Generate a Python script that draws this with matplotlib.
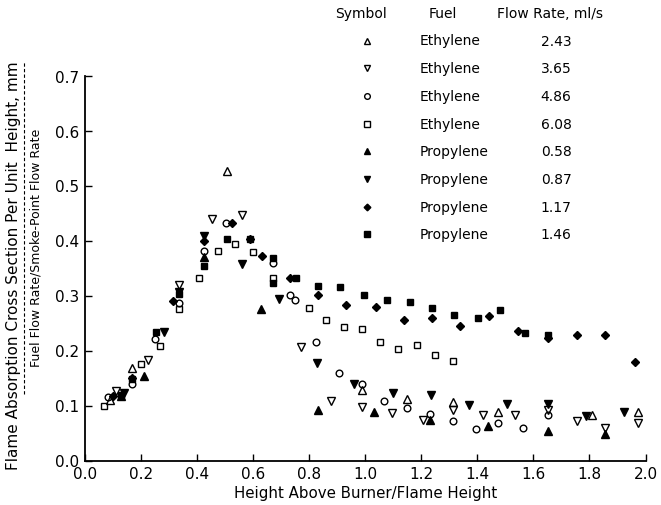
import matplotlib
matplotlib.use("Agg")
import matplotlib.pyplot as plt
from matplotlib.lines import Line2D

plt.rcParams['font.family'] = ['DejaVu Sans']

# ---- data ----
fuels = ["Ethylene", "Ethylene", "Ethylene", "Ethylene",
         "Propylene", "Propylene", "Propylene", "Propylene"]
flow_rates = ["2.43", "3.65", "4.86", "6.08", "0.58", "0.87", "1.17", "1.46"]

eth243_x = [0.09, 0.167, 0.506, 0.988, 1.149, 1.312, 1.473, 1.81, 1.974]
eth243_y = [0.110, 0.168, 0.527, 0.129, 0.112, 0.106, 0.088, 0.083, 0.089]

eth365_x = [0.11, 0.226, 0.336, 0.452, 0.56, 0.771, 0.877, 0.988, 1.095, 1.206,
            1.312, 1.42, 1.533, 1.651, 1.754, 1.857, 1.974]
eth365_y = [0.126, 0.183, 0.319, 0.440, 0.446, 0.206, 0.109, 0.098, 0.086, 0.074,
            0.091, 0.083, 0.083, 0.091, 0.071, 0.059, 0.068]

eth486_x = [0.083, 0.167, 0.25, 0.336, 0.423, 0.502, 0.67, 0.732, 0.75, 0.825,
            0.905, 0.988, 1.068, 1.149, 1.232, 1.312, 1.396, 1.473, 1.562, 1.651]
eth486_y = [0.115, 0.140, 0.221, 0.286, 0.381, 0.431, 0.359, 0.301, 0.292, 0.215,
            0.160, 0.140, 0.109, 0.095, 0.085, 0.071, 0.058, 0.068, 0.060, 0.082]

eth608_x = [0.068, 0.20, 0.268, 0.336, 0.405, 0.473, 0.535, 0.601, 0.67, 0.798,
            0.86, 0.923, 0.988, 1.054, 1.117, 1.185, 1.248, 1.312]
eth608_y = [0.099, 0.175, 0.209, 0.275, 0.332, 0.381, 0.394, 0.380, 0.331, 0.277,
            0.255, 0.243, 0.240, 0.215, 0.203, 0.210, 0.192, 0.181]

pro058_x = [0.13, 0.211, 0.423, 0.629, 0.83, 1.033, 1.232, 1.438, 1.651, 1.857]
pro058_y = [0.117, 0.154, 0.370, 0.275, 0.092, 0.089, 0.074, 0.062, 0.054, 0.048]

pro087_x = [0.14, 0.282, 0.336, 0.423, 0.56, 0.694, 0.827, 0.961, 1.099, 1.236,
            1.371, 1.506, 1.651, 1.789, 1.923]
pro087_y = [0.123, 0.234, 0.307, 0.408, 0.357, 0.294, 0.177, 0.140, 0.122, 0.119,
            0.101, 0.103, 0.103, 0.081, 0.088]

pro117_x = [0.10, 0.167, 0.315, 0.423, 0.526, 0.587, 0.631, 0.732, 0.833, 0.932,
            1.038, 1.137, 1.238, 1.339, 1.44, 1.544, 1.652, 1.754, 1.857, 1.962]
pro117_y = [0.118, 0.150, 0.290, 0.400, 0.431, 0.403, 0.371, 0.331, 0.301, 0.283,
            0.279, 0.255, 0.260, 0.244, 0.262, 0.236, 0.223, 0.229, 0.228, 0.179]

pro146_x = [0.13, 0.167, 0.254, 0.337, 0.423, 0.506, 0.587, 0.67, 0.67, 0.754,
            0.833, 0.911, 0.994, 1.077, 1.161, 1.238, 1.315, 1.402, 1.48, 1.569, 1.652]
pro146_y = [0.120, 0.148, 0.233, 0.303, 0.353, 0.403, 0.403, 0.369, 0.323, 0.331,
            0.318, 0.315, 0.301, 0.291, 0.288, 0.277, 0.265, 0.259, 0.274, 0.231, 0.228]

xticks = [0.0, 0.2, 0.4, 0.6, 0.8, 1.0, 1.2, 1.4, 1.6, 1.8, 2.0]
yticks = [0.0, 0.1, 0.2, 0.3, 0.4, 0.5, 0.6, 0.7]

series = [
    (eth243_x, eth243_y, '^', 'none'),
    (eth365_x, eth365_y, 'v', 'none'),
    (eth486_x, eth486_y, 'o', 'none'),
    (eth608_x, eth608_y, 's', 'none'),
    (pro058_x, pro058_y, '^', 'black'),
    (pro087_x, pro087_y, 'v', 'black'),
    (pro117_x, pro117_y, 'D', 'black'),
    (pro146_x, pro146_y, 's', 'black'),
]

W, H = 661, 506
fig = plt.figure(figsize=(W / 100, H / 100), dpi=100)
left, right = 85 / W, 645.5 / W
bottom, top = 1 - 461.5 / H, 1 - 76.5 / H
ax = fig.add_axes([left, bottom, right - left, top - bottom])

msize = {'^': 5.2, 'v': 5.2, 'o': 4.8, 's': 4.4, 'D': 4.0}
for xs, ys, m, fc in series:
    ax.plot(xs, ys, linestyle='none', marker=m, markersize=msize[m],
            markerfacecolor=fc, markeredgecolor='black', markeredgewidth=1.0,
            clip_on=False)

ax.set_xlim(0, 2.0)
ax.set_ylim(0, 0.7)
ax.spines['top'].set_visible(False)
ax.spines['right'].set_visible(False)
ax.spines['left'].set_linewidth(1.3)
ax.spines['bottom'].set_linewidth(1.3)
ax.set_xticks(xticks)
ax.set_xticklabels([f"{v:.1f}" for v in xticks])
ax.set_yticks(yticks)
ax.set_yticklabels([f"{v:.1f}" for v in yticks])
ax.tick_params(direction='in', length=5, width=1, labelsize=11, pad=4)

ax.set_xlabel("Height Above Burner/Flame Height", fontsize=10.8, labelpad=3)

# y label as a fraction
fig.text(14 / W, 1 - 266 / H, "Flame Absorption Cross Section Per Unit  Height, mm",
         rotation=90, ha='center', va='center', fontsize=11)
fig.add_artist(Line2D([24 / W, 24 / W], [1 - 395 / H, 1 - 62 / H],
                      color='black', lw=0.8, linestyle=(0, (3, 2))))
fig.text(36 / W, 1 - 248 / H, "Fuel Flow Rate/Smoke-Point Flow Rate",
         rotation=90, ha='center', va='center', fontsize=9)

# legend table
fig.text(361 / W, 1 - 14 / H, "Symbol", ha='center', va='center', fontsize=10)
fig.text(443 / W, 1 - 14 / H, "Fuel", ha='center', va='center', fontsize=10)
fig.text(550 / W, 1 - 14 / H, "Flow Rate, ml/s", ha='center', va='center', fontsize=10)
row_y0, row_dy = 41.5, 27.7
for i, (xs, ys, m, fc) in enumerate(series):
    yy = 1 - (row_y0 + i * row_dy) / H
    fig.add_artist(Line2D([367 / W], [yy], linestyle='none', marker=m,
                          markersize=msize[m] * 0.85, markerfacecolor=fc,
                          markeredgecolor='black', markeredgewidth=1.0))
    fig.text(420 / W, yy, fuels[i], ha='left', va='center', fontsize=10)
    fig.text(556 / W, yy, flow_rates[i], ha='center', va='center', fontsize=10)

fig.savefig("out.png", dpi=100)
